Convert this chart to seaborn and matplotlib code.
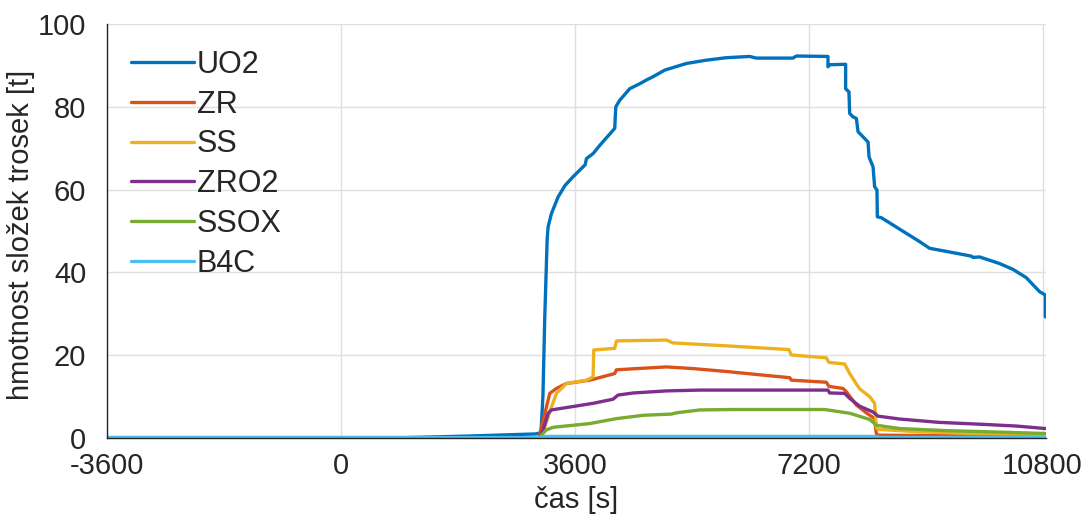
import matplotlib
matplotlib.use("Agg")
import matplotlib.pyplot as plt
import seaborn as sns
import pandas as pd

# Debris component masses [t] versus time [s]
t_uo2 = [-3600, 1000, 2000, 3000, 3080, 3110, 3138, 3175, 3190, 3241, 3343, 3450, 3574,
         3728, 3760, 3780, 3882, 3985, 4215, 4231, 4292, 4446, 4600, 4703, 4805, 4985,
         5318, 5626, 5934, 6292, 6395, 6958, 7010, 7497, 7497, 7523, 7769, 7769, 7820,
         7831, 7882, 7934, 7960, 8114, 8129, 8191, 8215, 8251, 8257, 8318, 8908, 9061,
         9369, 9703, 9729, 9831, 10139, 10344, 10549, 10754, 10842, 10842]
m_uo2 = [0, 0, 0.4, 0.9, 1.2, 10, 29, 48, 51, 54.2, 58.2, 61, 63.1,
         65.5, 66, 67.5, 68.7, 70.7, 74.8, 80.0, 81.6, 84.4, 85.6, 86.5, 87.3, 88.9,
         90.5, 91.3, 91.9, 92.2, 91.8, 91.8, 92.3, 92.2, 89.7, 90.2, 90.3, 84.4, 83.6,
         78.4, 77.6, 77.2, 74.0, 71.5, 67.9, 65.5, 60.7, 59.9, 53.4, 53.2, 47.4, 45.8,
         44.9, 43.9, 43.6, 43.7, 42.1, 40.7, 38.7, 35.3, 34.5, 29.2]

t_zr = [-3600, 3050, 3112, 3164, 3215, 3318, 3472, 3831, 4215, 4241, 4549, 5010, 5421,
        5934, 6446, 6908, 6933, 7472, 7510, 7728, 7780, 7934, 8088, 8215, 8241, 8267,
        9000, 10842]
m_zr = [0, 0, 4.2, 7.4, 10.7, 11.9, 13.1, 13.9, 15.5, 16.4, 16.7, 17.1, 16.7,
        16.0, 15.2, 14.5, 13.9, 13.4, 12.4, 11.9, 11.1, 7.9, 6.0, 4.6, 1.0, 0.6,
        0.5, 0.35]

t_ss = [-3600, 3080, 3138, 3241, 3318, 3472, 3780, 3882, 3892, 4215, 4241, 5010, 5113,
        5934, 6895, 6933, 7472, 7510, 7754, 7831, 7934, 7985, 8139, 8215, 8241, 8267,
        8900, 9700, 10842]
m_ss = [0, 0, 2.6, 7.4, 10.7, 13.1, 13.9, 14.7, 21.2, 21.6, 23.4, 23.6, 22.9,
        22.2, 21.3, 20.0, 19.3, 18.2, 17.8, 15.5, 13.0, 11.8, 9.9, 8.3, 2.6, 2.0,
        1.4, 1.0, 0.8]

t_zro2 = [-3600, 3060, 3112, 3190, 3241, 3523, 3882, 4190, 4267, 4500, 5010, 5523, 7497,
          7523, 7754, 7831, 7985, 8191, 8267, 8600, 9200, 9900, 10400, 10842]
m_zro2 = [0, 0, 1.8, 5.9, 6.7, 7.4, 8.3, 9.3, 10.3, 10.8, 11.3, 11.5, 11.5,
          10.8, 10.7, 9.5, 7.6, 6.2, 5.2, 4.5, 3.7, 3.2, 2.8, 2.2]

t_ssox = [-3600, 3060, 3088, 3164, 3267, 3831, 4241, 4652, 5087, 5164, 5523, 6036, 7446,
          7831, 8139, 8241, 8600, 9300, 10000, 10842]
m_ssox = [0, 0, 0.6, 1.9, 2.5, 3.4, 4.6, 5.4, 5.7, 6.0, 6.7, 6.8, 6.8,
          5.9, 4.4, 3.0, 2.2, 1.7, 1.4, 1.0]

t_b4c = [-3600, 3050, 3150, 8200, 8300, 10842]
m_b4c = [0, 0, 0.3, 0.3, 0.05, 0.05]

components = ["UO2", "ZR", "SS", "ZRO2", "SSOX", "B4C"]
times = [t_uo2, t_zr, t_ss, t_zro2, t_ssox, t_b4c]
masses = [m_uo2, m_zr, m_ss, m_zro2, m_ssox, m_b4c]
colors = ["#0072BD", "#D95319", "#EDB120", "#7E2F8E", "#77AC30", "#4DBEEE"]

x_ticks = [-3600, 0, 3600, 7200, 10800]
y_ticks = [0, 20, 40, 60, 80, 100]

frames = []
for name, t, m in zip(components, times, masses):
    frames.append(pd.DataFrame({"cas": t, "hmotnost": m, "slozka": name}))
df = pd.concat(frames, ignore_index=True)

sns.set_theme(style="whitegrid")
plt.rcParams["font.family"] = ["Liberation Sans", "DejaVu Sans"]

fig = plt.figure(figsize=(10.86, 5.26), dpi=100)
ax = fig.add_axes([0.0985, 0.168, 0.8645, 0.786])

sns.lineplot(data=df, x="cas", y="hmotnost", hue="slozka", hue_order=components,
             palette=colors, estimator=None, sort=False, units="slozka",
             linewidth=2.4, ax=ax)

ax.set_xlim(-3600, 10850)
ax.set_ylim(0, 100)
ax.set_xticks(x_ticks)
ax.set_xticklabels([str(v) for v in x_ticks])
ax.set_yticks(y_ticks)
ax.set_yticklabels([str(v) for v in y_ticks])

ax.grid(True, color="#dfdfdf", linewidth=1.0)
for side in ["top", "right"]:
    ax.spines[side].set_visible(False)
for side in ["left", "bottom"]:
    ax.spines[side].set_color("#262626")
    ax.spines[side].set_linewidth(1.0)

ax.tick_params(axis="both", direction="in", length=7, width=1.0, color="#262626",
               labelsize=21, labelcolor="#262626")
ax.tick_params(axis="y", pad=15)
ax.tick_params(axis="x", pad=10.5)

ax.set_xlabel("čas [s]", fontsize=21, color="#262626", labelpad=4)
ax.set_ylabel("hmotnost složek trosek [t]", fontsize=21, color="#262626")
ax.yaxis.set_label_coords(-0.0767, 0.49)

handles, labels = ax.get_legend_handles_labels()
leg = ax.legend(handles, labels, loc="upper left", bbox_to_anchor=(0.0256, 0.938),
                frameon=False, fontsize=22, handlelength=2.05, handletextpad=0.1,
                labelspacing=0.32, borderpad=0, borderaxespad=0)
for line in leg.get_lines():
    line.set_linewidth(2.4)

fig.savefig("out.png", dpi=100)
